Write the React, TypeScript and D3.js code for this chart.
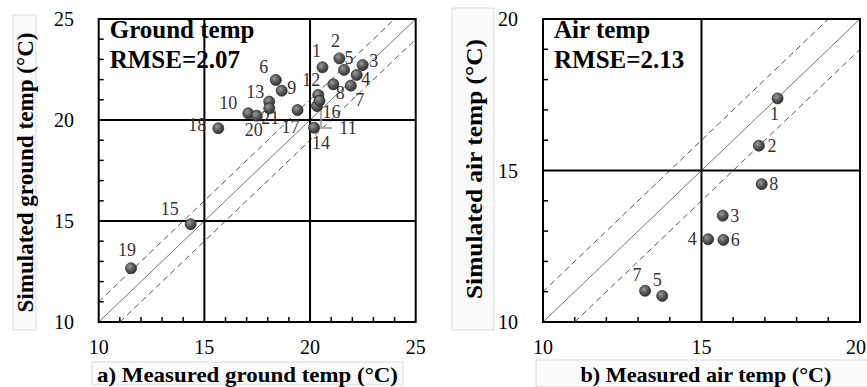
import React from "react";
import * as d3 from "d3";

// a) ground temperature, site ids with measured / simulated values (°C)
const groundIds = [1, 2, 3, 4, 5, 6, 7, 8, 9, 10, 11, 12, 13, 14, 15, 16, 17, 18, 19, 20, 21];
const groundMeasured = [20.59, 21.39, 22.49, 22.21, 21.61, 18.38, 21.93, 21.1, 18.66, 17.08, 20.33, 20.39, 18.07, 20.19, 14.35, 20.45, 19.41, 15.66, 11.53, 17.48, 18.07];
const groundSimulated = [22.61, 23.05, 22.72, 22.23, 22.48, 21.98, 21.7, 21.77, 21.45, 20.33, 20.69, 21.24, 20.91, 19.62, 14.84, 20.95, 20.49, 19.59, 12.66, 20.21, 20.58];

// b) air temperature
const airIds = [1, 2, 3, 4, 5, 6, 7, 8];
const airMeasured = [17.4, 16.81, 15.67, 15.21, 13.76, 15.69, 13.22, 16.9];
const airSimulated = [17.38, 15.82, 13.51, 12.73, 10.86, 12.71, 11.03, 14.55];

const groundTicks = [10, 15, 20, 25];
const airTicks = [10, 15, 20];

// label offsets (px) around each marker
const groundLabelPos: Record<number, [number, number]> = {
  1: [-6, -16], 2: [-4, -17], 3: [11, -4], 4: [9, 4], 5: [5, -12], 6: [-12, -13],
  7: [9, 14], 8: [7, 9], 9: [10, -3], 10: [-20, -10], 11: [31, 22], 12: [-7, -15],
  13: [-14, -10], 14: [7, 15], 15: [-21, -15], 16: [12, 11], 17: [-7, 17],
  18: [-21, -3], 19: [-4, -18], 20: [-3, 14], 21: [1, 10],
};
const airLabelPos: Record<number, [number, number]> = {
  1: [-3, 16], 2: [13, 0], 3: [12, 0], 4: [-16, 0], 5: [-5, -16], 6: [12, 0], 7: [-8, -16], 8: [12, 0],
};

const W = 867;
const H = 387;
const serif = "'Liberation Serif', 'Times New Roman', serif";

type PanelProps = {
  ids: number[];
  measured: number[];
  simulated: number[];
  ticks: number[];
  labelPos: Record<number, [number, number]>;
  x0: number;
  x1: number;
  y0: number;
  y1: number;
  title: string;
  rmse: string;
  yTitle: string;
  yTitleBox: [number, number, number, number];
  yTitleLen: number;
  xTitle: string;
  xTitleBox: [number, number, number, number];
  xTitleLen: number;
  yLabelX: number;
  leader?: number;
};

const Panel = (p: PanelProps) => {
  const lo = p.ticks[0];
  const hi = p.ticks[p.ticks.length - 1];
  const x = d3.scaleLinear().domain([lo, hi]).range([p.x0, p.x1]);
  const y = d3.scaleLinear().domain([lo, hi]).range([p.y0, p.y1]);
  const minor = d3.range(lo + 1, hi, 1).filter((v) => !p.ticks.includes(v));
  const inner = p.ticks.slice(1, -1);

  // 1:1 line and ±1 °C band, clipped to the frame
  const diag = (off: number) => {
    const a = Math.max(lo, lo - off);
    const b = Math.min(hi, hi - off);
    return { x1: x(a), y1: y(a + off), x2: x(b), y2: y(b + off) };
  };

  const pts = p.ids.map((id, i) => ({ id, mx: p.measured[i], sy: p.simulated[i] }));
  const [bx, by, bw, bh] = p.yTitleBox;
  const [cx, cy, cw, ch] = p.xTitleBox;

  return (
    <g fontFamily={serif}>
      {/* axis title boxes */}
      <rect x={bx} y={by} width={bw} height={bh} fill="#fafafa" stroke="#dcdcdc" />
      <text
        transform={`translate(${bx + bw / 2 + 1},${by + bh / 2}) rotate(-90)`}
        textAnchor="middle"
        dominantBaseline="central"
        fontSize={23}
        fontWeight="bold"
        textLength={p.yTitleLen}
        lengthAdjust="spacingAndGlyphs"
      >
        {p.yTitle}
      </text>
      <rect x={cx} y={cy} width={cw} height={ch} fill="#fafafa" stroke="#dcdcdc" />
      <text
        x={cx + cw / 2}
        y={cy + ch / 2 + 1}
        textAnchor="middle"
        dominantBaseline="central"
        fontSize={22}
        fontWeight="bold"
        textLength={p.xTitleLen}
        lengthAdjust="spacingAndGlyphs"
      >
        {p.xTitle}
      </text>

      {/* diagonal lines */}
      {[0, 1, -1].map((off) => {
        const d = diag(off);
        return (
          <line
            key={off}
            {...d}
            stroke={off === 0 ? "#777" : "#555"}
            strokeWidth={1}
            strokeDasharray={off === 0 ? undefined : "6,4"}
          />
        );
      })}

      {/* inner grid lines */}
      {inner.map((v) => (
        <g key={v}>
          <line x1={x(v)} x2={x(v)} y1={p.y0} y2={p.y1} stroke="#000" strokeWidth={2} />
          <line x1={p.x0} x2={p.x1} y1={y(v)} y2={y(v)} stroke="#000" strokeWidth={2} />
        </g>
      ))}

      {/* minor ticks, pointing inward */}
      {minor.map((v) => (
        <g key={v}>
          <line x1={x(v)} x2={x(v)} y1={p.y0} y2={p.y0 - 5} stroke="#000" strokeWidth={1.5} />
          <line x1={p.x0} x2={p.x0 + 5} y1={y(v)} y2={y(v)} stroke="#000" strokeWidth={1.5} />
        </g>
      ))}

      <rect x={p.x0} y={p.y1} width={p.x1 - p.x0} height={p.y0 - p.y1} fill="none" stroke="#000" strokeWidth={2} />

      {/* tick labels */}
      {p.ticks.map((v) => {
        const tx = x(v);
        const atEdge = tx + 11 > W;
        return (
          <g key={v} fontSize={20}>
            <text
              x={atEdge ? W - 1 : tx}
              y={p.y0 + 25}
              textAnchor={atEdge ? "end" : "middle"}
              dominantBaseline="central"
            >
              {v}
            </text>
            <text x={p.yLabelX} y={y(v)} textAnchor="end" dominantBaseline="central">
              {v}
            </text>
          </g>
        );
      })}

      {/* panel title */}
      <text x={p.x0 + 11} y={p.y1 + 19} fontSize={25} fontWeight="bold">
        {p.title}
      </text>
      <text x={p.x0 + 11} y={p.y1 + 49} fontSize={25} fontWeight="bold">
        {p.rmse}
      </text>

      {/* leader line */}
      {pts
        .filter((d) => d.id === p.leader)
        .map((d) => (
          <polyline
            key="leader"
            points={`${x(d.mx) + 4},${y(d.sy) - 5} ${x(d.mx) + 4},${y(d.sy) + 22} ${x(d.mx) + 15},${y(d.sy) + 22}`}
            fill="none"
            stroke="#999"
            strokeWidth={1.5}
          />
        ))}

      {/* markers */}
      {pts.map((d) => (
        <circle key={d.id} cx={x(d.mx)} cy={y(d.sy)} r={5.5} fill="url(#ball)" stroke="#2e2e2e" strokeWidth={0.8} />
      ))}
      {pts.map((d) => {
        const [dx, dy] = p.labelPos[d.id] || [10, 0];
        return (
          <text
            key={d.id}
            x={x(d.mx) + dx}
            y={y(d.sy) + dy}
            textAnchor="middle"
            dominantBaseline="central"
            fontSize={18}
            fill="#333"
          >
            {d.id}
          </text>
        );
      })}
    </g>
  );
};

const App = () => {
  return (
    <svg width={W} height={H} style={{ position: "absolute", left: 0, top: 0, background: "#fff" }}>
      <defs>
        <radialGradient id="ball" cx="38%" cy="35%" r="65%">
          <stop offset="0%" stopColor="#9a9a9a" />
          <stop offset="55%" stopColor="#5a5a5a" />
          <stop offset="100%" stopColor="#333" />
        </radialGradient>
      </defs>
      <Panel
        ids={groundIds}
        measured={groundMeasured}
        simulated={groundSimulated}
        ticks={groundTicks}
        labelPos={groundLabelPos}
        x0={98.7}
        x1={415.7}
        y0={322}
        y1={19}
        title="Ground temp"
        rmse="RMSE=2.07"
        yTitle="Simulated ground temp (°C)"
        yTitleBox={[13, 15, 23, 315]}
        yTitleLen={280}
        xTitle="a) Measured ground temp (°C)"
        xTitleBox={[92, 362, 311, 23]}
        xTitleLen={301}
        yLabelX={74}
        leader={11}
      />
      <Panel
        ids={airIds}
        measured={airMeasured}
        simulated={airSimulated}
        ticks={airTicks}
        labelPos={airLabelPos}
        x0={543}
        x1={860}
        y0={322}
        y1={19}
        title="Air temp"
        rmse="RMSE=2.13"
        yTitle="Simulated air temp (°C)"
        yTitleBox={[452, 8, 42, 322]}
        yTitleLen={260}
        xTitle="b) Measured air temp (°C)"
        xTitleBox={[536, 360, 340, 27]}
        xTitleLen={251}
        yLabelX={518}
      />
    </svg>
  );
};

export default App;
